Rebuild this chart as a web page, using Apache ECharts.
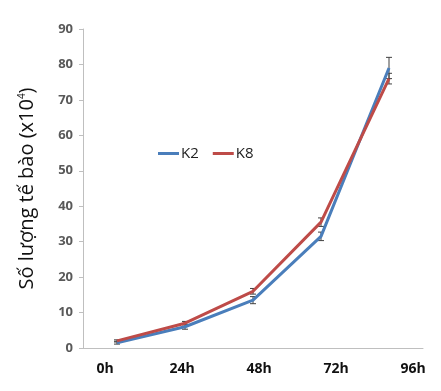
<!DOCTYPE html>
<html>
<head>
<meta charset="utf-8">
<script src="https://cdn.jsdelivr.net/npm/echarts@6/dist/echarts.min.js"></script>
<style>
  html, body { margin: 0; padding: 0; background: #fff; }
  #chart { width: 441px; height: 391px; }
</style>
</head>
<body>
<div id="chart"></div>
<script>
var hours = ['0h', '24h', '48h', '72h', '96h'];
var k2Values = [1.5, 6, 13.5, 31.5, 79];
var k2Errors = [0.4, 0.7, 1, 1.2, 3];
var k8Values = [2, 7, 16, 35.5, 76];
var k8Errors = [0.3, 0.5, 0.8, 1.2, 1.5];

var blue = '#4a7ebb';
var red = '#be4b48';

function errorSeries(values, errors) {
    var data = [];
    for (var i = 0; i < values.length; i++) {
        data.push([i, values[i] - errors[i], values[i] + errors[i]]);
    }
    return {
        type: 'custom',
        xAxisIndex: 0,
        yAxisIndex: 0,
        data: data,
        z: 3,
        silent: true,
        renderItem: function (params, api) {
            var lo = api.coord([api.value(0), api.value(1)]);
            var hi = api.coord([api.value(0), api.value(2)]);
            var w = 3;
            var st = { stroke: '#404040', lineWidth: 1 };
            return {
                type: 'group',
                children: [
                    { type: 'line', shape: { x1: hi[0], y1: hi[1], x2: lo[0], y2: lo[1] }, style: st },
                    { type: 'line', shape: { x1: hi[0] - w, y1: hi[1], x2: hi[0] + w, y2: hi[1] }, style: st },
                    { type: 'line', shape: { x1: lo[0] - w, y1: lo[1], x2: lo[0] + w, y2: lo[1] }, style: st }
                ]
            };
        }
    };
}

var chart = echarts.init(document.getElementById('chart'));
chart.setOption({
    animation: false,
    textStyle: { fontFamily: '"Open Sans", "Noto Sans", sans-serif' },
    legend: {
        left: 153,
        top: 141,
        itemWidth: 21,
        itemHeight: 3,
        itemGap: 14,
        icon: 'rect',
        textStyle: { fontSize: 15, color: '#222', padding: [0, 0, 0, -3] },
        data: ['K2', 'K8']
    },
    grid: [
        { left: 83, right: 18, top: 29, bottom: 43 },
        { left: 105, right: 28, top: 29, bottom: 43 }
    ],
    xAxis: [{
        type: 'category',
        gridIndex: 0,
        data: hours,
        boundaryGap: true,
        axisLine: { lineStyle: { color: '#bfbfbf', width: 1 } },
        axisTick: { show: false },
        axisLabel: { show: false }
    }, {
        type: 'category',
        gridIndex: 1,
        data: hours,
        boundaryGap: false,
        axisLine: { show: false },
        axisTick: { show: false },
        axisLabel: { fontSize: 14, fontWeight: 'bold', color: '#111', margin: 14 }
    }],
    yAxis: [{
        type: 'value',
        gridIndex: 0,
        min: 0,
        max: 90,
        interval: 10,
        name: 'Số lượng tế bào (x10{sup|4})',
        nameLocation: 'middle',
        nameGap: 46,
        nameRotate: 90,
        nameTextStyle: {
            fontSize: 20,
            color: '#111',
            rich: { sup: { fontSize: 10, verticalAlign: 'top', padding: [0, 0, 10, 0], color: '#111' } }
        },
        splitLine: { show: false },
        axisLine: { show: true, lineStyle: { color: '#bfbfbf', width: 1 } },
        axisTick: { show: true, length: 4, lineStyle: { color: '#bfbfbf' } },
        axisLabel: { fontSize: 13, fontWeight: 'bold', color: '#595959', margin: 10 }
    }, {
        type: 'value',
        gridIndex: 1,
        min: 0,
        max: 90,
        show: false
    }],
    series: [{
        name: 'K2',
        type: 'line',
        data: k2Values,
        color: blue,
        symbol: 'none',
        z: 4,
        lineStyle: { width: 3, color: blue }
    }, {
        name: 'K8',
        type: 'line',
        data: k8Values,
        color: red,
        symbol: 'none',
        z: 5,
        lineStyle: { width: 3, color: red }
    },
    errorSeries(k2Values, k2Errors),
    errorSeries(k8Values, k8Errors)]
});
</script>
</body>
</html>
